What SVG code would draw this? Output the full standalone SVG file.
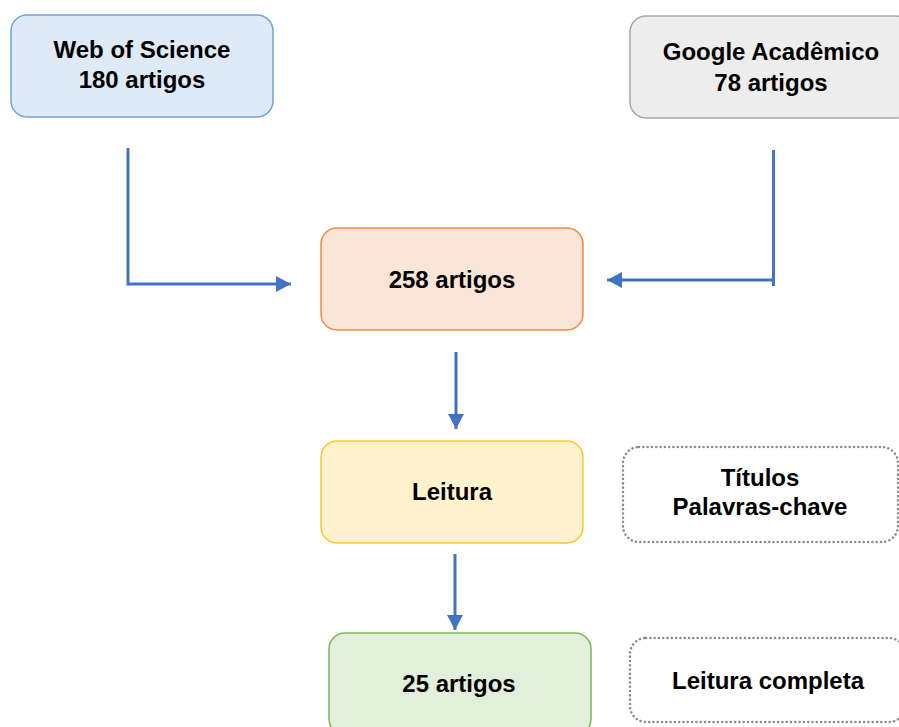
<svg xmlns="http://www.w3.org/2000/svg" width="899" height="727" viewBox="0 0 899 727">
<style>
  text { font-family: "Liberation Sans", Arial, sans-serif; font-weight: bold; font-size: 24px; fill: #000; text-anchor: middle; }
  .box { stroke-width: 1.5; }
  .note { fill: #ffffff; stroke: #8c8c8c; stroke-width: 2.5; stroke-dasharray: 0.1 4.2; stroke-linecap: round; }
  .conn { fill: none; stroke: #4472C4; stroke-width: 3; }
</style>
<defs>
  <marker id="arrow" viewBox="0 0 15 16" refX="15" refY="8" markerWidth="15" markerHeight="16" markerUnits="userSpaceOnUse" orient="auto">
    <path d="M0,0 L15,8 L0,16 Z" fill="#4472C4"/>
  </marker>
</defs>
<rect width="899" height="727" fill="#ffffff"/>

<g id="connectors">
  <path class="conn" d="M128,148 L128,284 L291,284" marker-end="url(#arrow)"/>
  <path class="conn" d="M773.5,150 L773.5,286"/>
  <path class="conn" d="M773.5,280 L607,280" marker-end="url(#arrow)"/>
  <path class="conn" d="M456,352 L456,429" marker-end="url(#arrow)"/>
  <path class="conn" d="M455,554 L455,630" marker-end="url(#arrow)"/>
</g>

<g id="web-of-science">
  <rect class="box" x="11" y="15" width="262" height="102" rx="16" fill="#DEEAF6" stroke="#6FA3D8"/>
  <text x="142" y="58">Web of Science</text>
  <text x="142" y="88">180 artigos</text>
</g>

<g id="google-academico">
  <rect class="box" x="630" y="16" width="282" height="102" rx="16" fill="#EDEDED" stroke="#A6A6A6"/>
  <text x="771" y="60">Google Acadêmico</text>
  <text x="771" y="91">78 artigos</text>
</g>

<g id="n258">
  <rect class="box" x="321" y="228" width="262" height="102" rx="16" fill="#FBE5D6" stroke="#F08A44"/>
  <text x="452" y="288">258 artigos</text>
</g>

<g id="leitura">
  <rect class="box" x="321" y="441" width="262" height="102" rx="16" fill="#FFF2CC" stroke="#FFC72C"/>
  <text x="452" y="500">Leitura</text>
</g>

<g id="titulos">
  <rect class="note" x="623" y="447" width="275" height="95" rx="16"/>
  <text x="760" y="486">Títulos</text>
  <text x="760" y="515">Palavras-chave</text>
</g>

<g id="n25">
  <rect class="box" x="329" y="633" width="262" height="102" rx="16" fill="#E2EFDA" stroke="#7DB758"/>
  <text x="459" y="692">25 artigos</text>
</g>

<g id="leitura-completa">
  <rect class="note" x="630" y="638" width="275" height="84" rx="16"/>
  <text x="768" y="689">Leitura completa</text>
</g>
</svg>
